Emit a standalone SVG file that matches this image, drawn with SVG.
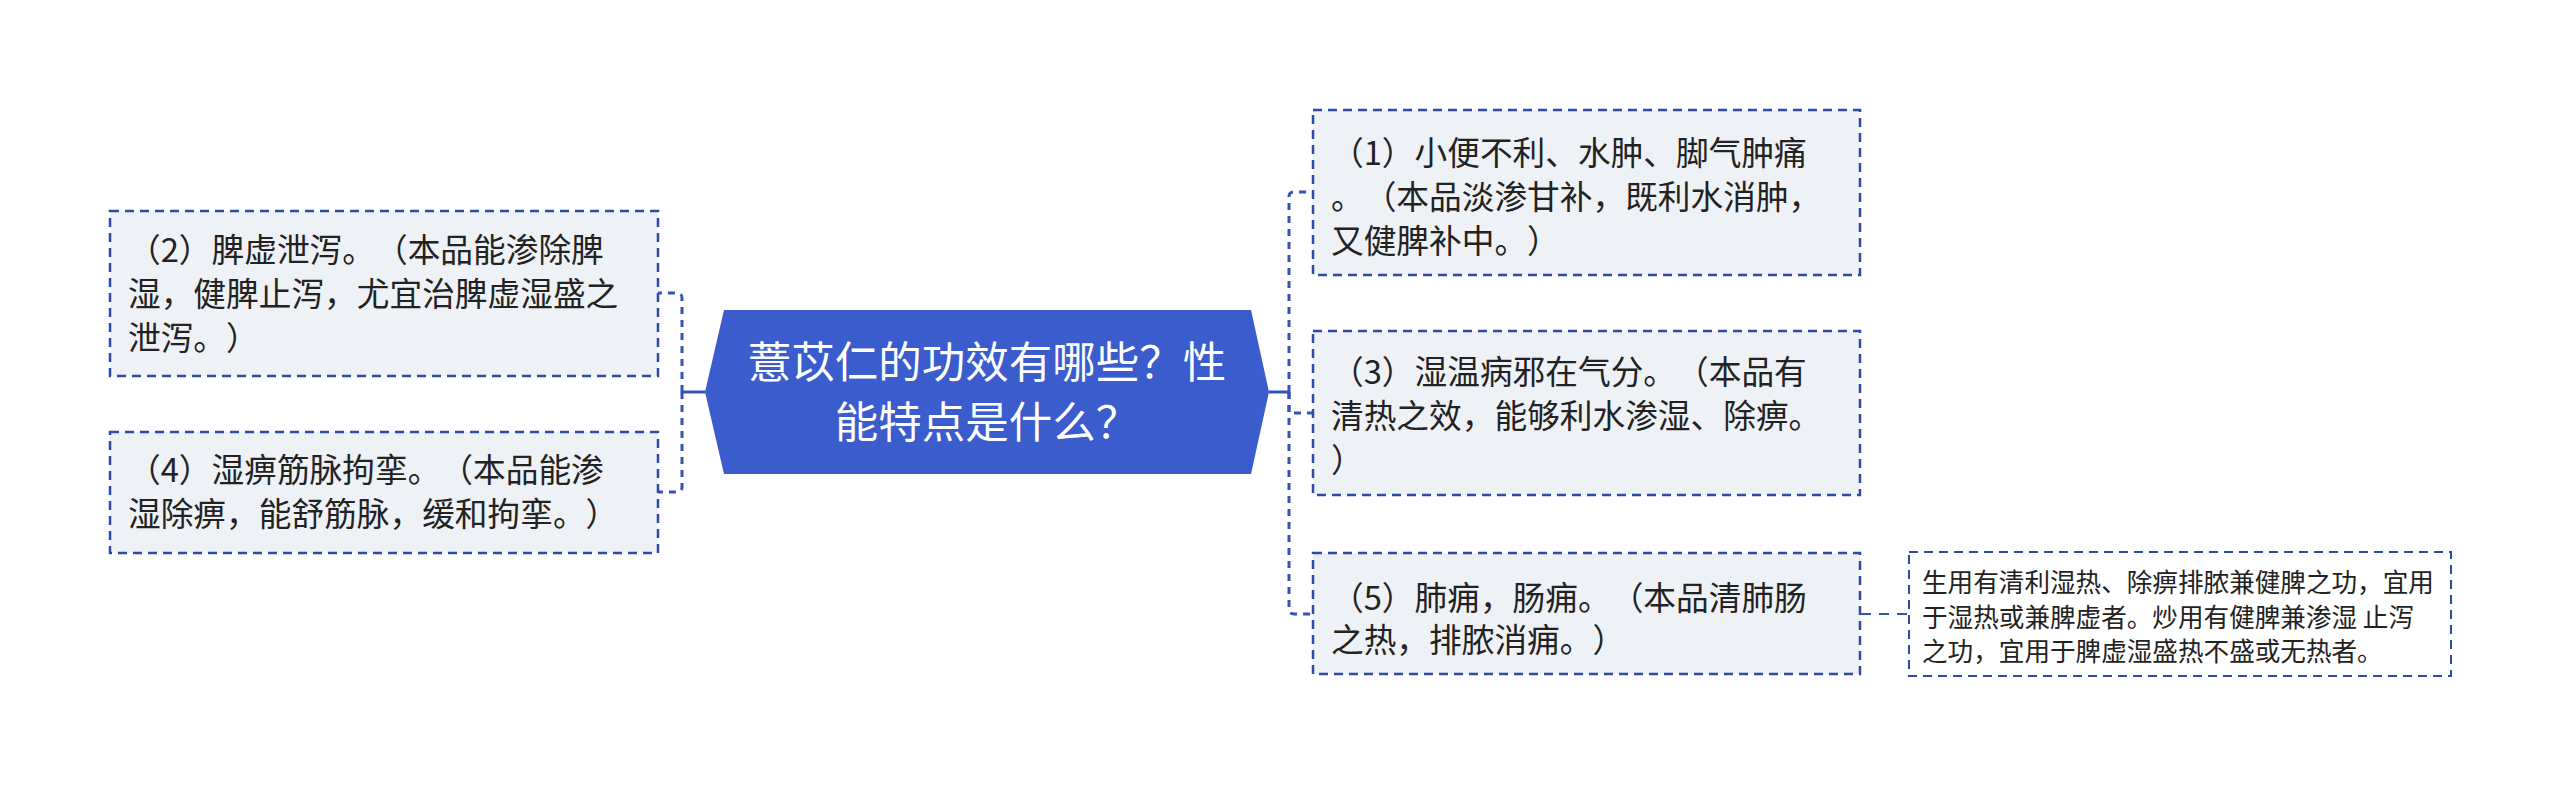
<svg xmlns="http://www.w3.org/2000/svg" width="2560" height="787" viewBox="0 0 2560 787">
<style>
text{text-spacing-trim:space-all}
.box{fill:#eef1f5;stroke:#2c4aa8;stroke-width:2.5;stroke-dasharray:9 6}
.note{fill:#ffffff;stroke:#2c4aa8;stroke-width:2;stroke-dasharray:9 6}
.t{font-family:"Noto Sans CJK SC","Noto Sans",sans-serif;font-size:32.7px;fill:#222222}
.tn{font-family:"Noto Sans CJK SC","Noto Sans",sans-serif;font-size:25.6px;fill:#222222}
.tm{font-family:"Noto Sans CJK SC","Noto Sans",sans-serif;font-size:43.5px;fill:#ffffff;text-anchor:middle}
.c{fill:none;stroke:#3452b8;stroke-width:3;stroke-dasharray:7 6}
.cs{fill:none;stroke:#3452b8;stroke-width:3}
.cn{fill:none;stroke:#3452b8;stroke-width:2;stroke-dasharray:10 8}
</style>
<rect width="2560" height="787" fill="#ffffff"/>
<g id="connectors">
<path class="cs" d="M705 392H682"/>
<path class="c" d="M682 392V298Q682 293 677 293H658"/>
<path class="c" d="M682 392V487Q682 492 677 492H658"/>
<path class="cs" d="M1269 392H1289"/>
<path class="c" d="M1289 392V197Q1289 192 1294 192H1313"/>
<path class="c" d="M1289 392V413H1313"/>
<path class="c" d="M1289 392V609Q1289 614 1294 614H1313"/>
<path class="cn" d="M1861 614H1909"/>
</g>
<g id="center">
<polygon points="705,392 724,310 1251,310 1269,392 1251,474 724,474" fill="#3a5ccc"/>
<text class="tm" x="987" y="378">薏苡仁的功效有哪些？性</text>
<text class="tm" x="987" y="438">能特点是什么？</text>
</g>
<g id="n2">
<rect class="box" x="110" y="211" width="548" height="165"/>
<text class="t" x="128" y="262">（2）脾虚泄泻。（本品能渗除脾</text>
<text class="t" x="128" y="306">湿，健脾止泻，尤宜治脾虚湿盛之</text>
<text class="t" x="128" y="350">泄泻。）</text>
</g>
<g id="n4">
<rect class="box" x="110" y="432" width="548" height="121"/>
<text class="t" x="128" y="482">（4）湿痹筋脉拘挛。（本品能渗</text>
<text class="t" x="128" y="526">湿除痹，能舒筋脉，缓和拘挛。）</text>
</g>
<g id="n1">
<rect class="box" x="1313" y="110" width="547" height="165"/>
<text class="t" x="1331" y="165">（1）小便不利、水肿、脚气肿痛</text>
<text class="t" x="1331" y="209">。（本品淡渗甘补，既利水消肿，</text>
<text class="t" x="1331" y="253">又健脾补中。）</text>
</g>
<g id="n3">
<rect class="box" x="1313" y="331" width="547" height="164"/>
<text class="t" x="1331" y="384">（3）湿温病邪在气分。（本品有</text>
<text class="t" x="1331" y="428">清热之效，能够利水渗湿、除痹。</text>
<text class="t" x="1331" y="472">）</text>
</g>
<g id="n5">
<rect class="box" x="1313" y="553" width="547" height="121"/>
<text class="t" x="1331" y="610">（5）肺痈，肠痈。（本品清肺肠</text>
<text class="t" x="1331" y="652">之热，排脓消痈。）</text>
</g>
<g id="note">
<rect class="note" x="1909" y="552" width="542" height="124"/>
<text class="tn" x="1922" y="592">生用有清利湿热、除痹排脓兼健脾之功，宜用</text>
<text class="tn" x="1922" y="627">于湿热或兼脾虚者。炒用有健脾兼渗湿 止泻</text>
<text class="tn" x="1922" y="661">之功，宜用于脾虚湿盛热不盛或无热者。</text>
</g>
</svg>
